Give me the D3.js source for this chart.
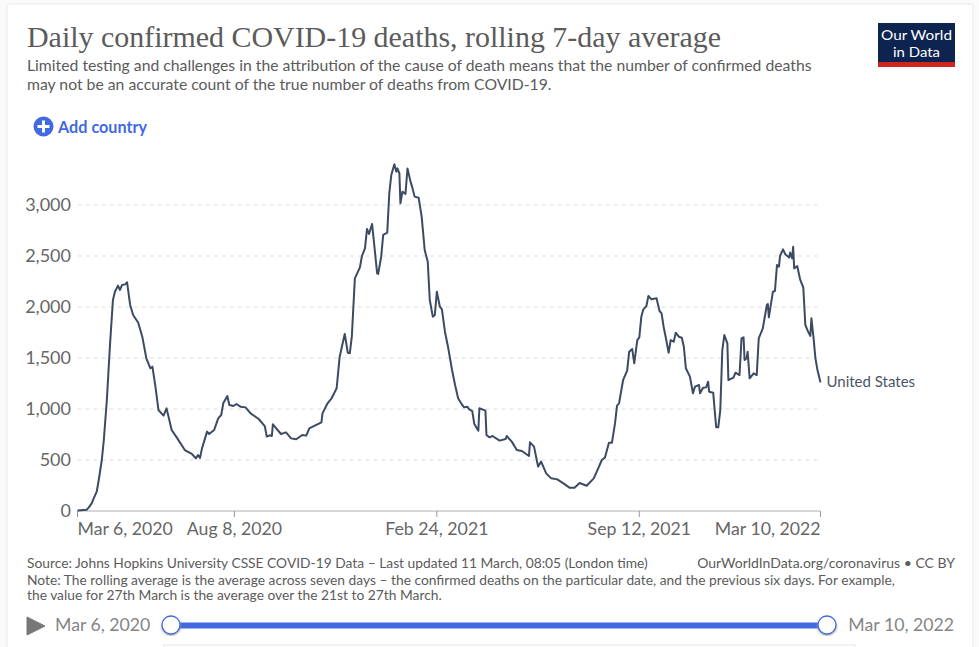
<!DOCTYPE html>
<html>
<head>
<meta charset="utf-8">
<script src="https://cdnjs.cloudflare.com/ajax/libs/d3/7.8.5/d3.min.js"></script>
<style>
  html, body { margin: 0; padding: 0; background: #fafafa; overflow: hidden; }
  text { font-family: Lato, sans-serif; }
</style>
</head>
<body>
<svg id="chart" width="979" height="647"></svg>
<script>
// days since Mar 6, 2020 and the rolling average
const dayOffsets = [
  0, 9, 11, 14, 16, 19, 21, 24, 26, 29, 32, 35, 37, 40, 42, 44, 47, 49, 52, 55, 60, 64, 68, 72, 74, 77, 80, 85, 88, 93, 98, 106,
  113, 117, 119, 121, 123, 128, 130, 135, 139, 142, 144, 148, 150, 154, 157, 161, 166, 171, 179, 185, 187, 190, 192,
  193, 201, 206, 211, 216, 222, 226, 229, 237, 241, 242, 247, 251, 256, 259, 264, 267, 269, 271,
  274, 279, 281, 284, 286, 288, 291, 293, 296, 297, 300, 302, 306, 308, 310, 313, 315, 316, 318, 319, 321, 324, 326,
  329, 331, 333, 337, 340, 343, 346, 348, 351, 353, 355, 358, 360, 363, 366, 370, 373, 376, 380, 382, 385, 387, 390,
  392, 396, 397, 403, 404, 407, 410, 417, 423, 424, 429, 434, 439, 446, 447, 451, 455, 458, 463, 468, 474, 480, 486,
  491, 496, 503, 510, 513, 518, 521,
  525, 528, 531, 533, 535, 539, 543, 545, 548, 550, 553, 555, 557, 559, 562, 564, 567, 572, 575, 577, 579, 581, 584,
  586, 589, 591, 594, 597, 599, 601, 605, 608, 610, 614, 615, 618, 621, 623, 624, 628, 630, 631, 633, 635, 637, 639,
  642, 643, 648, 650, 654, 656, 658, 659, 661, 662, 664, 668, 671, 673, 677, 681, 682, 683, 687, 689, 691, 693, 694,
  697, 699, 703, 704, 706, 707, 708, 711, 714, 717, 719, 721, 724, 725, 727, 729, 731, 733, 734
];
const deaths = [
  5, 13, 33, 75, 124, 190, 304, 500, 696, 1088, 1611, 2069, 2150, 2210, 2167, 2216, 2222, 2242, 2020, 1922, 1846, 1709, 1497, 1399, 1415, 1219, 990, 935, 1006, 794, 722, 598,
  559, 516, 549, 520, 614, 778, 755, 794, 908, 941, 1056, 1127, 1039, 1029, 1049, 1023, 1016, 957, 902, 833, 729, 742, 735,
  850, 755, 771, 712, 703, 745, 739, 810, 850, 869, 957, 1056, 1105, 1203, 1513, 1735, 1552, 1546, 1709,
  2281, 2389, 2500, 2575, 2765, 2716, 2814, 2624, 2330, 2324, 2493, 2706, 2729, 3114, 3294, 3399, 3327, 3359, 3310, 3016, 3131, 3108, 3359,
  3229, 3163, 3082, 3072, 2886, 2559, 2444, 2069, 1905, 1922, 2150, 2003, 1977, 1758, 1611, 1382, 1235, 1105, 1039, 1016, 1023, 997, 980,
  853, 788, 1007, 984, 745, 722, 735, 690, 706, 735, 680, 598, 588, 539, 673, 631, 435, 484, 369, 320, 310, 271, 229,
  229, 275, 248, 320, 386, 500, 523,
  670, 670, 859, 1033, 1056, 1284, 1376, 1562, 1588, 1448, 1676, 1703, 1905, 1977, 2010, 2108, 2075, 2085, 1961, 1938, 1807, 1709, 1552,
  1676, 1660, 1748, 1709, 1699, 1611, 1399, 1317, 1154, 1219, 1235, 1154, 1209, 1212, 1268, 1170, 1160, 925, 820, 820, 990, 1578, 1725,
  1644, 1284, 1307, 1356, 1333, 1693, 1703, 1480, 1497, 1562, 1301, 1350, 1333, 1693, 1791, 2020, 2029, 1899, 2150, 2157, 2412, 2395, 2500,
  2565, 2520, 2484, 2533, 2477, 2591, 2379, 2402, 2265, 2193, 1824, 1775, 1716, 1889, 1709, 1497, 1382, 1301, 1261
];
const yTicks = [0, 500, 1000, 1500, 2000, 2500, 3000];
const xTickDates = ["2020-03-06", "2020-08-08", "2021-02-24", "2021-09-12", "2022-03-10"];
const xTickLabels = ["Mar 6, 2020", "Aug 8, 2020", "Feb 24, 2021", "Sep 12, 2021", "Mar 10, 2022"];
const seriesName = "United States";

const subtitleLines = [
  "Limited testing and challenges in the attribution of the cause of death means that the number of confirmed deaths",
  "may not be an accurate count of the true number of deaths from COVID-19."
];
const noteLines = [
  "Note: The rolling average is the average across seven days – the confirmed deaths on the particular date, and the previous six days. For example,",
  "the value for 27th March is the average over the 21st to 27th March."
];

const parseDate = d3.timeParse("%Y-%m-%d");
const startDate = parseDate(xTickDates[0]);
const endDate = parseDate(xTickDates[xTickDates.length - 1]);

const lineData = dayOffsets.map((d, i) => ({ date: d3.timeDay.offset(startDate, d), value: deaths[i] }));

const svg = d3.select("#chart");

const x = d3.scaleTime().domain([startDate, endDate]).range([77.5, 820.5]);
const y = d3.scaleLinear().domain([0, 3000]).range([511, 205]);

const textGrey = "#5b5b5b";
const blue = "#4169e1";

// card, and the edge of the next panel below the slider
svg.append("rect").attr("x", 7).attr("y", 4).attr("width", 966).attr("height", 660).attr("rx", 2)
  .attr("fill", "#fff").attr("stroke", "#e9e9e9");
svg.append("rect").attr("x", 164).attr("y", 645).attr("width", 691).attr("height", 10)
  .attr("fill", "none").attr("stroke", "#e6e6e6");

// header
svg.append("text").attr("x", 27).attr("y", 47).text("Daily confirmed COVID-19 deaths, rolling 7-day average")
  .attr("textLength", 694).attr("lengthAdjust", "spacingAndGlyphs")
  .style("font-family", "'Liberation Serif', serif").style("font-size", "30px").attr("fill", "#5b5b5b");

svg.selectAll(".subtitle").data(subtitleLines).join("text")
  .attr("class", "subtitle").attr("x", 27).attr("y", (d, i) => 71 + i * 19)
  .attr("fill", textGrey).style("font-size", "15.75px").text(d => d);

// logo
svg.append("rect").attr("x", 878).attr("y", 23).attr("width", 77).attr("height", 44).attr("fill", "#0d2450");
svg.append("rect").attr("x", 878).attr("y", 62).attr("width", 77).attr("height", 5).attr("fill", "#ce261e");
svg.selectAll(".logo").data(["Our World", "in Data"]).join("text")
  .attr("class", "logo").attr("x", 916.5).attr("y", (d, i) => 40 + i * 17).attr("text-anchor", "middle")
  .attr("textLength", (d, i) => i === 0 ? 71 : 47).attr("lengthAdjust", "spacingAndGlyphs")
  .attr("fill", "#fff").style("font-size", "14px").text(d => d);

// add country button
svg.append("circle").attr("cx", 43.5).attr("cy", 126.5).attr("r", 10).attr("fill", blue);
svg.append("path").attr("d", "M43.5 120.5v12M37.5 126.5h12").attr("stroke", "#fff").attr("stroke-width", 3);
svg.append("text").attr("x", 58).attr("y", 133).text("Add country")
  .attr("fill", blue).style("font-size", "16.2px").style("font-weight", 700);

// grid and y labels
svg.selectAll(".grid").data(yTicks.filter(d => d > 0)).join("line")
  .attr("class", "grid").attr("x1", x.range()[0]).attr("x2", x.range()[1])
  .attr("y1", d => y(d)).attr("y2", d => y(d))
  .attr("stroke", "#dddddd").attr("stroke-dasharray", "4,4");

svg.selectAll(".ylab").data(yTicks).join("text")
  .attr("class", "ylab").attr("x", 71).attr("y", d => y(d) + 6).attr("text-anchor", "end")
  .attr("fill", "#666").style("font-size", "18px").text(d3.format(","));

// x axis
svg.append("line").attr("x1", x.range()[0]).attr("x2", x.range()[1]).attr("y1", y(0)).attr("y2", y(0))
  .attr("stroke", "#b0b0b0").attr("stroke-width", 1.2);

svg.selectAll(".xtick").data(xTickDates).join("line")
  .attr("class", "xtick")
  .attr("x1", d => x(parseDate(d))).attr("x2", d => x(parseDate(d)))
  .attr("y1", y(0)).attr("y2", y(0) + 6)
  .attr("stroke", "#999");

svg.selectAll(".xlab").data(xTickLabels).join("text")
  .attr("class", "xlab")
  .attr("x", (d, i) => x(parseDate(xTickDates[i])))
  .attr("y", 535)
  .attr("text-anchor", (d, i) => i === 0 ? "start" : i === xTickLabels.length - 1 ? "end" : "middle")
  .attr("fill", "#666").style("font-size", "17.7px").text(d => d);

// the line
const line = d3.line().x(d => x(d.date)).y(d => y(d.value));
svg.append("path").datum(lineData).attr("d", line)
  .attr("fill", "none").attr("stroke", "#3c4b63").attr("stroke-width", 2).attr("stroke-linejoin", "round");

const last = lineData[lineData.length - 1];
svg.append("text").attr("x", x(last.date) + 6).attr("y", y(last.value) + 5).text(seriesName)
  .attr("fill", "#4a5568").style("font-size", "15px");

// footer
svg.append("text").attr("x", 27).attr("y", 567.5).attr("fill", textGrey).style("font-size", "13.8px")
  .text("Source: Johns Hopkins University CSSE COVID-19 Data – Last updated 11 March, 08:05 (London time)");
svg.append("text").attr("x", 955).attr("y", 567.5).attr("text-anchor", "end").attr("fill", textGrey).style("font-size", "14px")
  .text("OurWorldInData.org/coronavirus • CC BY");
svg.selectAll(".note").data(noteLines).join("text")
  .attr("class", "note").attr("x", 27).attr("y", (d, i) => 584.5 + i * 15.5)
  .attr("fill", textGrey).style("font-size", "13.8px").text(d => d);

// timeline
const defs = svg.append("defs");
const shadow = defs.append("filter").attr("id", "handleShadow");
shadow.append("feDropShadow").attr("dx", 0).attr("dy", 1).attr("stdDeviation", 1).attr("flood-color", "#999");

svg.append("path").attr("d", "M27 617L45 626L27 635Z").attr("fill", "#777")
  .attr("stroke", "#777").attr("stroke-width", 1).attr("stroke-linejoin", "round");
svg.append("text").attr("x", 55).attr("y", 631).text(xTickLabels[0]).attr("fill", "#858585").style("font-size", "17.7px");
svg.append("text").attr("x", 954).attr("y", 631).attr("text-anchor", "end").text(xTickLabels[4])
  .attr("fill", "#858585").style("font-size", "17.7px");
svg.append("line").attr("x1", 171).attr("x2", 827).attr("y1", 625.5).attr("y2", 625.5)
  .attr("stroke", blue).attr("stroke-width", 6);
svg.selectAll(".handle").data([171, 827]).join("circle")
  .attr("class", "handle").attr("cx", d => d).attr("cy", 625).attr("r", 9)
  .attr("fill", "#fff").attr("stroke", blue).attr("stroke-width", 1.3).attr("filter", "url(#handleShadow)");
</script>
</body>
</html>
